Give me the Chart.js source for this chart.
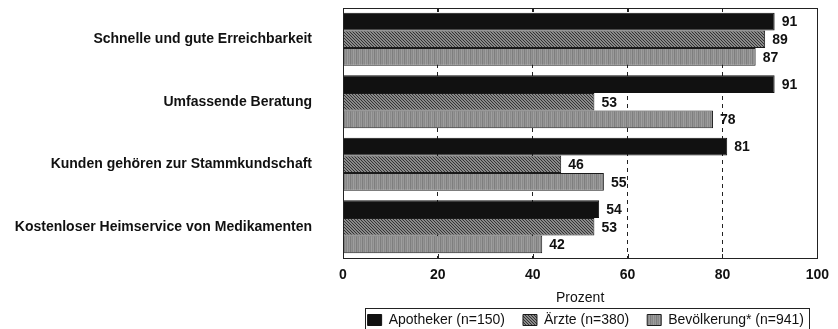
<!DOCTYPE html>
<html><head><meta charset="utf-8">
<script src="https://cdn.jsdelivr.net/npm/chart.js@4.4.1/dist/chart.umd.min.js"></script>
<style>html,body{margin:0;padding:0;background:#fff;} #wrap{width:838px;height:329px;position:relative;}</style>
</head><body><div id="wrap"><canvas id="c" width="838" height="329"></canvas></div>
<script>
const categories = ["Schnelle und gute Erreichbarkeit", "Umfassende Beratung", "Kunden gehören zur Stammkundschaft", "Kostenloser Heimservice von Medikamenten"];
const seriesNames = ["Apotheker (n=150)", "Ärzte (n=380)", "Bevölkerung* (n=941)"];
const apotheker = [91, 91, 81, 54];
const aerzte = [89, 53, 46, 53];
const bevoelkerung = [87, 78, 55, 42];
const xTickValues = [0, 20, 40, 60, 80, 100];
const axisTitle = "Prozent";

const FONT = "'Liberation Sans', Arial, sans-serif";

function makePattern(w, h, painter) {
  const cv = document.createElement('canvas');
  cv.width = w; cv.height = h;
  const g = cv.getContext('2d');
  painter(g);
  return g.createPattern(cv, 'repeat');
}
const hatch = makePattern(3, 3, g => {
  g.fillStyle = '#8a8a8a'; g.fillRect(0, 0, 3, 3);
  g.fillStyle = '#333';
  for (let i = 0; i < 3; i++) { g.fillRect(i, i, 1, 1); }
});
const stripes = makePattern(6, 2, g => {
  const cols = ['#8a8a8a', '#9a9a9a', '#7e7e7e', '#949494', '#888888', '#9f9f9f'];
  cols.forEach((c, i) => { g.fillStyle = c; g.fillRect(i, 0, 1, 2); });
});

const framePlugin = {
  id: 'frame',
  afterDatasetsDraw(chart) {
    const {ctx, chartArea: a, scales: {x}} = chart;
    ctx.save();
    ctx.strokeStyle = '#222';
    ctx.lineWidth = 1;
    ctx.strokeRect(Math.round(a.left) + 0.5, Math.round(a.top) + 0.5, Math.round(a.right - a.left), Math.round(a.bottom - a.top));
    ctx.beginPath();
    xTickValues.forEach(v => {
      if (v === 0 || v === 100) return;
      const px = Math.round(x.getPixelForValue(v)) + 0.5;
      ctx.moveTo(px, a.top); ctx.lineTo(px, a.top + 4);
      ctx.moveTo(px, a.bottom); ctx.lineTo(px, a.bottom - 4);
    });
    ctx.stroke();
    ctx.restore();
  }
};

const valueLabels = {
  id: 'valueLabels',
  afterDatasetsDraw(chart) {
    const {ctx} = chart;
    ctx.save();
    ctx.font = 'bold 14px ' + FONT;
    ctx.fillStyle = '#111';
    ctx.textAlign = 'left';
    ctx.textBaseline = 'middle';
    chart.data.datasets.forEach((ds, di) => {
      chart.getDatasetMeta(di).data.forEach((el, i) => {
        ctx.fillText(String(ds.data[i]), el.x + 7, el.y + 1);
      });
    });
    ctx.restore();
  }
};

const legendBox = {
  id: 'legendBox',
  afterDraw(chart) {
    const hb = chart.legend && chart.legend.legendHitBoxes;
    if (!hb || !hb.length) return;
    const {ctx} = chart;
    const first = hb[0], last = hb[hb.length - 1];
    const left = Math.round(first.left) - 2.5;
    const right = Math.round(last.left + last.width) + 5.5;
    const top = Math.round(first.top) - 4.5;
    ctx.save();
    ctx.strokeStyle = '#222';
    ctx.lineWidth = 1;
    ctx.strokeRect(left, top, right - left, 40);
    ctx.restore();
  }
};

new Chart(document.getElementById('c'), {
  type: 'bar',
  data: {
    labels: categories,
    datasets: [
      {label: seriesNames[0], data: apotheker, backgroundColor: '#111', borderColor: '#111', borderWidth: 1},
      {label: seriesNames[1], data: aerzte, backgroundColor: hatch, borderColor: '#1a1a1a', borderWidth: 1},
      {label: seriesNames[2], data: bevoelkerung, backgroundColor: stripes, borderColor: '#1a1a1a', borderWidth: 1}
    ]
  },
  options: {
    indexAxis: 'y',
    responsive: false,
    animation: false,
    devicePixelRatio: 1,
    layout: {padding: {left: 0, right: 16, top: 8, bottom: -8}},
    datasets: {bar: {barPercentage: 1, categoryPercentage: 0.85}},
    scales: {
      x: {
        min: 0, max: 100,
        afterFit(s) { s.height = 37; },
        afterBuildTicks(s) { s.ticks = xTickValues.map(v => ({value: v})); },
        ticks: {stepSize: 20, autoSkip: false, padding: 9, color: '#111', font: {family: FONT, size: 14, weight: 'bold'}},
        grid: {
          drawTicks: false,
          color: c => (c.tick && (c.tick.value === 0 || c.tick.value === 100)) ? 'rgba(0,0,0,0)' : '#222',
          lineWidth: 1
        },
        border: {display: false, dash: [4, 4]},
        title: {display: true, text: axisTitle, color: '#111', font: {family: FONT, size: 14}, padding: {top: 0, bottom: -12}}
      },
      y: {
        afterFit(s) { s.width = 343; s.paddingTop = 0; s.paddingBottom = 0; },
        ticks: {padding: 31, color: '#111', font: {family: FONT, size: 14, weight: 'bold'}},
        grid: {display: false, drawTicks: false},
        border: {display: false}
      }
    },
    plugins: {
      legend: {
        position: 'bottom',
        align: 'end',
        labels: {boxWidth: 14, boxHeight: 11, padding: 18, color: '#111', font: {family: FONT, size: 14}}
      },
      tooltip: {enabled: false}
    }
  },
  plugins: [framePlugin, valueLabels, legendBox]
});
</script>
</body></html>
